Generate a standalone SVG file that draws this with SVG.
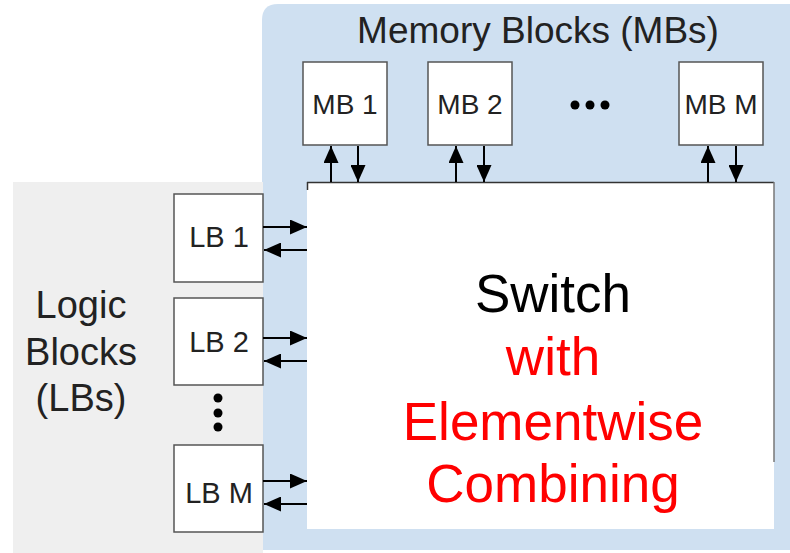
<svg xmlns="http://www.w3.org/2000/svg" width="790" height="553" viewBox="0 0 790 553">
<style>
.box{fill:#ffffff;stroke:#555555;stroke-width:1.5}
.lbl{font-family:"Liberation Sans",Arial,sans-serif;fill:#222222;text-anchor:middle}
.big{font-family:"Liberation Sans",Arial,sans-serif;text-anchor:middle;font-size:53px}
.conn{stroke:#000000;stroke-width:2;fill:none;marker-end:url(#ah)}
.dot{fill:#000000}
</style>
<defs>
<marker id="ah" markerUnits="userSpaceOnUse" markerWidth="17" markerHeight="15" viewBox="0 0 17 15" refX="17" refY="7.5" orient="auto">
<path d="M0,0 L17,7.5 L0,15 Z" fill="#000000"/>
</marker>
</defs>
<g id="background">
<path d="M262,20 Q262,4 278,4 L790,4 L790,550 L262,550 Z" fill="#cfe0f1"/>
<rect x="13" y="182" width="250" height="371" fill="#efefef"/>
</g>
<g id="memory-title">
<text class="lbl" x="538" y="43" font-size="37">Memory Blocks (MBs)</text>
</g>
<g id="logic-title">
<text class="lbl" x="81" y="318" font-size="38">Logic</text>
<text class="lbl" x="81" y="365" font-size="38">Blocks</text>
<text class="lbl" x="81" y="411" font-size="38">(LBs)</text>
</g>
<g id="switch">
<rect x="307" y="182" width="467" height="347" fill="#ffffff"/>
<line x1="307" y1="182.5" x2="774" y2="182.5" stroke="#333333" stroke-width="1.5"/>
<line x1="774" y1="182" x2="774" y2="462" stroke="#777777" stroke-width="1.5"/>
<line x1="307.5" y1="182" x2="307.5" y2="190" stroke="#333333" stroke-width="1.5"/>
<text class="big" x="553" y="312" fill="#000000">Switch</text>
<text class="big" x="553" y="375" fill="#ff0000">with</text>
<text class="big" x="553" y="440" fill="#ff0000">Elementwise</text>
<text class="big" x="553" y="502" fill="#ff0000">Combining</text>
</g>
<g id="mb1">
<rect class="box" x="303" y="62" width="84" height="83"/>
<text class="lbl" x="345" y="114" font-size="28">MB 1</text>
</g>
<g id="mb2">
<rect class="box" x="428" y="62" width="84" height="83"/>
<text class="lbl" x="470" y="114" font-size="28">MB 2</text>
</g>
<g id="mb-dots">
<circle class="dot" cx="575" cy="105" r="4.5"/>
<circle class="dot" cx="590" cy="105" r="4.5"/>
<circle class="dot" cx="605" cy="105" r="4.5"/>
</g>
<g id="mbm">
<rect class="box" x="679" y="62" width="84" height="83"/>
<text class="lbl" x="721" y="114" font-size="28">MB M</text>
</g>
<g id="lb1">
<rect class="box" x="174" y="194" width="89" height="88"/>
<text class="lbl" x="219" y="247" font-size="29">LB 1</text>
</g>
<g id="lb2">
<rect class="box" x="174" y="298" width="89" height="87"/>
<text class="lbl" x="219" y="352" font-size="29">LB 2</text>
</g>
<g id="lb-dots">
<circle class="dot" cx="218" cy="398" r="4.5"/>
<circle class="dot" cx="218" cy="413" r="4.5"/>
<circle class="dot" cx="218" cy="427" r="4.5"/>
</g>
<g id="lbm">
<rect class="box" x="174" y="445" width="89" height="87"/>
<text class="lbl" x="219" y="503" font-size="29">LB M</text>
</g>
<g id="connectors">
<line class="conn" x1="331" y1="182" x2="331" y2="146"/>
<line class="conn" x1="358" y1="146" x2="358" y2="182"/>
<line class="conn" x1="456" y1="182" x2="456" y2="146"/>
<line class="conn" x1="484" y1="146" x2="484" y2="182"/>
<line class="conn" x1="708" y1="182" x2="708" y2="146"/>
<line class="conn" x1="736" y1="146" x2="736" y2="182"/>
<line class="conn" x1="263" y1="227" x2="307" y2="227"/>
<line class="conn" x1="307" y1="250" x2="264" y2="250"/>
<line class="conn" x1="263" y1="338" x2="307" y2="338"/>
<line class="conn" x1="307" y1="361" x2="264" y2="361"/>
<line class="conn" x1="263" y1="481" x2="307" y2="481"/>
<line class="conn" x1="307" y1="504" x2="264" y2="504"/>
</g>
</svg>
